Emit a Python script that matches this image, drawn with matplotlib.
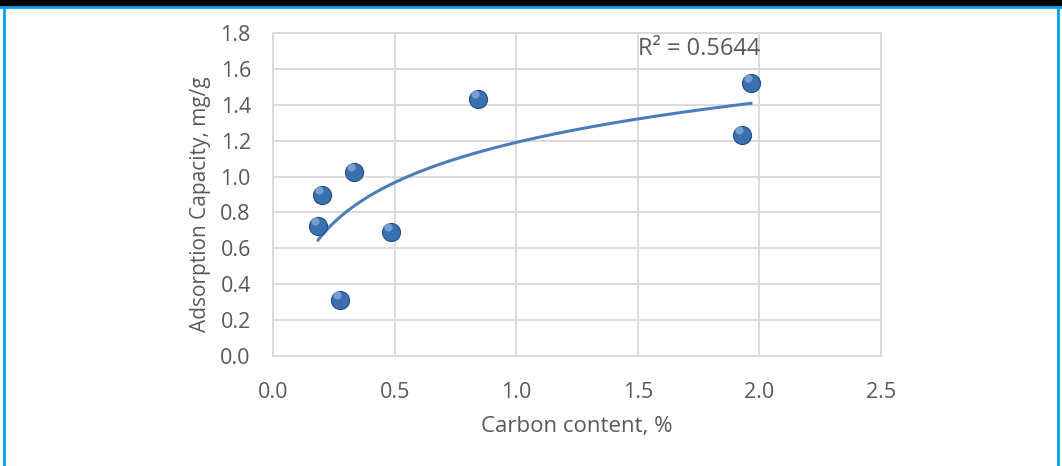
import numpy as np
import matplotlib
matplotlib.use("Agg")
import matplotlib.pyplot as plt
from matplotlib.lines import Line2D

carbon = [0.185, 0.201, 0.333, 0.275, 0.485, 0.843, 1.93, 1.965]
capacity = [0.725, 0.897, 1.026, 0.312, 0.69, 1.432, 1.23, 1.52]
r2_label = "R² = 0.5644"

plt.rcParams['font.family'] = ['Open Sans', 'DejaVu Sans']
grey = '#595959'
grid = '#d9d9d9'

fig = plt.figure(figsize=(10.62, 4.66), dpi=100)
ax = fig.add_axes([0.2571, 0.236, 0.5725, 0.6932])

# log trendline fitted from the points
a, b = np.polyfit(np.log(carbon), capacity, 1)
xs = np.linspace(min(carbon), max(carbon), 200)
ax.plot(xs, a * np.log(xs) + b, color='#4a7ebb', lw=2.2, zorder=3)

ax.scatter(carbon, capacity, s=170, color='#3a6fb0', edgecolors='#24507f',
           linewidths=0.8, zorder=4)
# little shine on the balls
ax.scatter(np.array(carbon) - 0.012, np.array(capacity) + 0.027, s=35,
           color='#8fb4e3', alpha=0.7, linewidths=0, zorder=5)

ax.set_xlim(0, 2.5)
ax.set_ylim(0, 1.8)
ax.set_xticks(np.arange(0, 2.51, 0.5))
ax.set_yticks(np.arange(0, 1.81, 0.2))
ax.xaxis.set_major_formatter(matplotlib.ticker.FormatStrFormatter('%.1f'))
ax.yaxis.set_major_formatter(matplotlib.ticker.FormatStrFormatter('%.1f'))
ax.grid(True, color=grid, lw=1.3)
ax.set_axisbelow(True)
for s in ax.spines.values():
    s.set_color(grid)
    s.set_linewidth(1.3)
ax.tick_params(length=0, labelsize=15.5, labelcolor=grey)
ax.tick_params(axis='x', pad=19)
ax.tick_params(axis='y', pad=16)

ax.set_xlabel('Carbon content, %', fontsize=16, color=grey, labelpad=9)
ax.set_ylabel('Adsorption Capacity, mg/g', fontsize=15, color=grey)
ax.yaxis.set_label_coords(-0.102, 0.47)

ax.text(1.5, 1.71, r2_label, fontsize=17, color=grey, va='center', ha='left')

# frame around the picture
fig.add_artist(Line2D([0, 1], [0.995, 0.995], color='black', lw=8,
                      transform=fig.transFigure))
fig.add_artist(Line2D([0, 1], [0.984, 0.984], color='#00a2e8', lw=2,
                      transform=fig.transFigure))
fig.add_artist(Line2D([0.004, 0.004], [0, 0.985], color='#00a2e8', lw=2,
                      transform=fig.transFigure))
fig.add_artist(Line2D([0.996, 0.996], [0, 0.985], color='#00a2e8', lw=2,
                      transform=fig.transFigure))

fig.savefig('out.png', dpi=100)
